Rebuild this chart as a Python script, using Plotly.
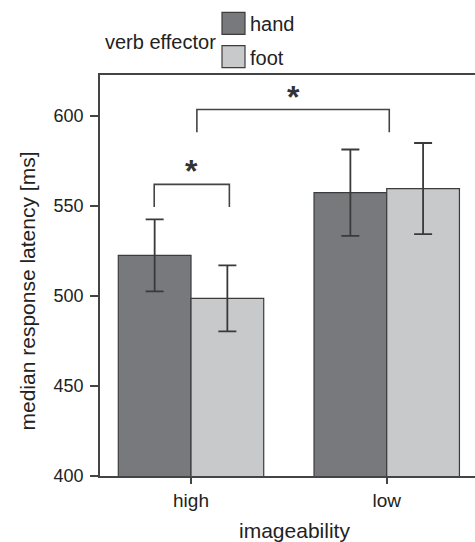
import plotly.graph_objects as go

# Median response latency by imageability and verb effector
imageability = ["high", "low"]
effectors = ["hand", "foot"]
hand_median = [522.6, 557.4]
hand_err = [20.0, 24.0]
foot_median = [498.7, 559.7]
foot_err = [18.3, 25.3]
y_ticks = [400, 450, 500, 550, 600]

# significance brackets: (x_left, x_right, y_top, y_leg_bottom)
brackets = [(-0.188, 0.196, 562, 549.5), (0.03, 1.013, 603.6, 591)]

W, H = 475, 542
ML, MR, MT, MB = 100, 0, 75, 66
PW, PH = W - ML - MR, H - MT - MB

FONT = "Liberation Sans, Arial, sans-serif"
TXT = "#222222"
AX = "#444444"
HAND_C = "#78797d"
FOOT_C = "#c8c9cb"
EDGE = "#3c3c3c"


def px(x):
    return (x - ML) / PW


def py(y):
    return (H - MB - y) / PH


fig = go.Figure()
for name, vals, errs, col in [("hand", hand_median, hand_err, HAND_C),
                              ("foot", foot_median, foot_err, FOOT_C)]:
    fig.add_trace(go.Bar(
        x=imageability, y=vals, name=name,
        marker=dict(color=col, line=dict(color=EDGE, width=1.2)),
        error_y=dict(type="data", array=errs, visible=True,
                     color="#3a3a3a", thickness=1.8, width=9),
        showlegend=False,
    ))

shapes = []
for x0, x1, ytop, ybot in brackets:
    shapes.append(dict(
        type="path", xref="x", yref="y",
        path=f"M {x0},{ybot} L {x0},{ytop} L {x1},{ytop} L {x1},{ybot}",
        line=dict(color="#444444", width=1.6),
    ))

annotations = []
for x0, x1, ytop, ybot in brackets:
    annotations.append(dict(
        x=(x0 + x1) / 2, y=ytop, xref="x", yref="y",
        text="<b>*</b>", showarrow=False, yanchor="bottom", yshift=-7,
        font=dict(family=FONT, size=32, color="#333333"),
    ))

# legend block
sw_x0, sw_x1 = 222, 245
for (y0, y1), col, name in [((12.3, 34.3), HAND_C, effectors[0]),
                            ((45.7, 67.7), FOOT_C, effectors[1])]:
    shapes.append(dict(type="rect", xref="paper", yref="paper",
                       x0=px(sw_x0), x1=px(sw_x1), y0=py(y1), y1=py(y0),
                       fillcolor=col, line=dict(color=EDGE, width=1.2)))
    annotations.append(dict(x=px(248), y=py((y0 + y1) / 2 + 1), xref="paper", yref="paper",
                            text=name, showarrow=False, xanchor="left", yanchor="middle",
                            font=dict(family=FONT, size=20, color=TXT)))
annotations.append(dict(x=px(218), y=py(42), xref="paper", yref="paper",
                        text="verb effector", showarrow=False, xanchor="right",
                        yanchor="middle", font=dict(family=FONT, size=20, color=TXT)))

# axis titles
annotations.append(dict(x=px(27), y=py(291.5), xref="paper", yref="paper",
                        text="median response latency [ms]", textangle=-90,
                        showarrow=False, xanchor="center", yanchor="middle",
                        font=dict(family=FONT, size=21, color=TXT)))
annotations.append(dict(x=px(294), y=py(530), xref="paper", yref="paper",
                        text="imageability", showarrow=False, xanchor="center",
                        yanchor="middle", font=dict(family=FONT, size=21, color=TXT)))

fig.update_layout(
    width=W, height=H,
    margin=dict(l=ML, r=MR, t=MT, b=MB),
    paper_bgcolor="white", plot_bgcolor="white",
    barmode="group", bargap=0.257, bargroupgap=0,
    shapes=shapes, annotations=annotations,
    font=dict(family=FONT, color=TXT),
)
fig.update_xaxes(
    type="category", range=[-0.465, 1.451],
    showline=True, linecolor=AX, linewidth=1.5, mirror=True,
    ticks="outside", ticklen=6, tickcolor=AX, tickwidth=1.5,
    tickfont=dict(family=FONT, size=19, color=TXT),
    showgrid=False, zeroline=False,
)
fig.update_yaxes(
    range=[400, 400 + PH / 1.8], tickvals=y_ticks,
    showline=True, linecolor=AX, linewidth=1.5, mirror=False,
    ticks="outside", ticklen=8, tickcolor=AX, tickwidth=1.5,
    ticklabelstandoff=3,
    tickfont=dict(family=FONT, size=18, color=TXT),
    showgrid=False, zeroline=False,
)

fig.write_html("out.html")
